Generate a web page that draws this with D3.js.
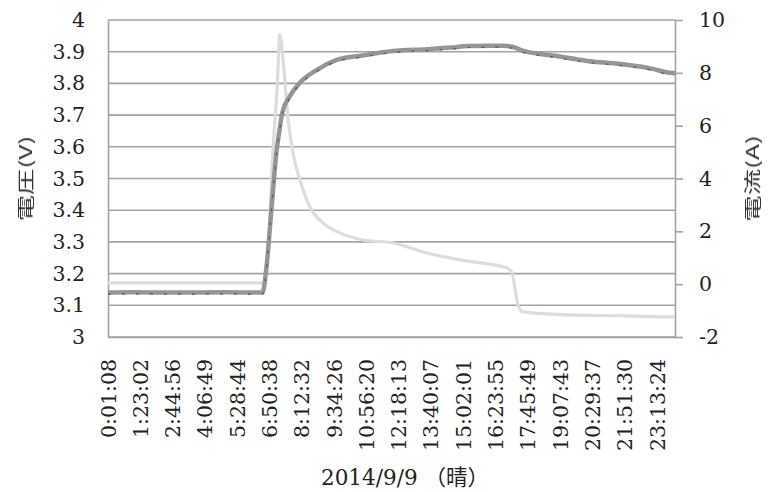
<!DOCTYPE html>
<html>
<head>
<meta charset="utf-8">
<script src="https://cdn.jsdelivr.net/npm/d3@7"></script>
<style>
  html, body { margin: 0; padding: 0; background: #fff; }
  svg { display: block; }
</style>
</head>
<body>
<svg id="chart" width="768" height="492"></svg>
<script>
// Voltage (V), sampled over the day
const voltTimes = ["0:01:08", "1:00:00", "3:00:00", "5:00:00", "6:20:00", "6:33:00", "6:43:00", "6:56:00",
  "7:08:00", "7:16:00", "7:23:00", "7:41:00", "8:07:00", "8:50:00", "9:41:00", "10:45:00", "12:04:00",
  "13:30:00", "14:30:00", "15:15:00", "16:45:00", "17:15:00", "17:30:00", "18:55:00", "20:16:00", "21:42:00",
  "23:05:00", "23:36:00", "23:58:50"];
const voltValues = [3.140, 3.141, 3.140, 3.141, 3.140, 3.140, 3.221, 3.410,
  3.580, 3.653, 3.707, 3.757, 3.801, 3.842, 3.874, 3.888, 3.902,
  3.908, 3.913, 3.918, 3.919, 3.912, 3.904, 3.887, 3.871, 3.861,
  3.845, 3.835, 3.832];

// Current (A)
const currTimes = ["0:01:08", "2:00:00", "4:00:00", "6:35:00", "6:47:00", "6:59:00", "7:10:00", "7:17:00",
  "7:25:00", "7:38:00", "7:50:00", "8:08:00", "8:33:00", "9:06:00", "9:49:00", "10:48:00", "12:04:00",
  "13:30:00", "14:53:00", "16:53:00", "17:05:00", "17:21:00", "17:34:00", "19:07:00", "21:56:00",
  "23:52:00", "23:58:50"];
const currValues = [0.05, 0.05, 0.05, 0.05, 1.18, 4.97, 7.46, 9.45,
  8.49, 6.21, 4.97, 3.94, 2.92, 2.32, 1.94, 1.67, 1.56,
  1.18, 0.92, 0.61, 0.45, -0.80, -1.05, -1.15, -1.20,
  -1.24, -1.24];

// Category labels along the time axis
const xTickLabels = ["0:01:08", "1:23:02", "2:44:56", "4:06:49", "5:28:44", "6:50:38", "8:12:32",
  "9:34:26", "10:56:20", "12:18:13", "13:40:07", "15:02:01", "16:23:55", "17:45:49", "19:07:43",
  "20:29:37", "21:51:30", "23:13:24"];
const xStart = "0:01:08";
const xEnd = "23:58:50";

const voltTicks = [3, 3.1, 3.2, 3.3, 3.4, 3.5, 3.6, 3.7, 3.8, 3.9, 4];
const currTicks = [-2, 0, 2, 4, 6, 8, 10];

const leftTitle = "電圧(V)";
const rightTitle = "電流(A)";
const bottomTitle = "2014/9/9 （晴）";

const toSec = s => { const p = s.split(":").map(Number); return p[0] * 3600 + p[1] * 60 + (p[2] || 0); };

const margin = { left: 108, top: 20, right: 93, bottom: 155 };
const W = 768, H = 492;
const pw = W - margin.left - margin.right;   // 567
const ph = H - margin.top - margin.bottom;   // 317

const svg = d3.select("#chart");
const g = svg.append("g").attr("transform", `translate(${margin.left},${margin.top})`);

const x = d3.scaleLinear().domain([toSec(xStart), toSec(xEnd)]).range([0, pw]);
const yV = d3.scaleLinear().domain([3, 4]).range([ph, 0]);
const yA = d3.scaleLinear().domain([-2, 10]).range([ph, 0]);

const tickFont = "'DejaVu Serif', 'Liberation Serif', serif";
const gridColor = "#a3a3a3";

// horizontal gridlines from the voltage axis
g.append("g").selectAll("line").data(voltTicks).join("line")
  .attr("x1", 0).attr("x2", pw)
  .attr("y1", d => yV(d)).attr("y2", d => yV(d))
  .attr("stroke", gridColor).attr("stroke-width", 1.6);

// left axis (line only, labels right-aligned)
const leftAxis = g.append("g").call(d3.axisLeft(yV).tickValues(voltTicks).tickSize(0).tickPadding(23)
  .tickFormat(d => String(+d.toFixed(1))));
leftAxis.select(".domain").attr("stroke", gridColor).attr("stroke-width", 1.6);
leftAxis.selectAll("text").attr("font-family", tickFont).attr("font-size", 20.5).attr("fill", "#222");

// right axis with outward tick marks
const rightAxis = g.append("g").attr("transform", `translate(${pw},0)`)
  .call(d3.axisRight(yA).tickValues(currTicks).tickSize(8).tickSizeOuter(0).tickPadding(16)
    .tickFormat(d => String(d)));
rightAxis.select(".domain").attr("stroke", gridColor).attr("stroke-width", 1.6);
rightAxis.selectAll(".tick line").attr("stroke", gridColor).attr("stroke-width", 1.6);
rightAxis.selectAll("text").attr("font-family", tickFont).attr("font-size", 20.5).attr("fill", "#222");

// bottom axis, rotated time labels
const bottomAxis = g.append("g").attr("transform", `translate(0,${ph})`)
  .call(d3.axisBottom(x).tickValues(xTickLabels.map(toSec)).tickSize(0).tickSizeOuter(0)
    .tickFormat((d, i) => xTickLabels[i]));
bottomAxis.select(".domain").attr("stroke", gridColor).attr("stroke-width", 1.6);
bottomAxis.selectAll("text")
  .attr("font-family", tickFont).attr("font-size", 20.5).attr("fill", "#222")
  .attr("text-anchor", "end")
  .attr("dy", null)
  .attr("dominant-baseline", "central")
  .attr("transform", "translate(0,22) rotate(-90)")
  .attr("x", 0).attr("y", 0);

// current series
const currData = currTimes.map((t, i) => ({ t: toSec(t), v: currValues[i] }));
g.append("path").datum(currData)
  .attr("fill", "none").attr("stroke", "#dcdcdc").attr("stroke-width", 3.2)
  .attr("stroke-linejoin", "round")
  .attr("d", d3.line().x(d => x(d.t)).y(d => yA(d.v)).curve(d3.curveMonotoneX));

// voltage series
const voltData = voltTimes.map((t, i) => ({ t: toSec(t), v: voltValues[i] }));
const voltLine = d3.line().x(d => x(d.t)).y(d => yV(d.v)).curve(d3.curveMonotoneX);
g.append("path").datum(voltData)
  .attr("fill", "none").attr("stroke", "#959595").attr("stroke-width", 4.5)
  .attr("stroke-linejoin", "round")
  .attr("d", voltLine);
g.append("path").datum(voltData)
  .attr("fill", "none").attr("stroke", "#5a5a5a").attr("stroke-width", 1.2)
  .attr("stroke-dasharray", "3 11")
  .attr("transform", "translate(0,1.5)")
  .attr("d", voltLine);

// axis titles (tall, narrow glyphs stretched along the reading direction)
const titleFont = "'Noto Sans CJK JP', 'Noto Sans', sans-serif";
const titles = svg.append("g").attr("opacity", 0.999);
titles.append("text")
  .attr("transform", `translate(32,${margin.top + ph / 2}) rotate(-90) scale(1.55,1)`)
  .attr("text-anchor", "middle")
  .attr("font-family", titleFont).attr("font-size", 17).attr("fill", "#333")
  .text(leftTitle);
titles.append("text")
  .attr("transform", `translate(759,${margin.top + ph / 2}) rotate(-90) scale(1.55,1)`)
  .attr("text-anchor", "middle")
  .attr("font-family", titleFont).attr("font-size", 17).attr("fill", "#333")
  .text(rightTitle);
svg.append("text")
  .attr("x", 321).attr("y", 485)
  .attr("font-family", "'DejaVu Serif', 'Noto Sans CJK JP', serif")
  .attr("font-size", 21.5).attr("fill", "#222")
  .text(bottomTitle);
</script>
</body>
</html>
